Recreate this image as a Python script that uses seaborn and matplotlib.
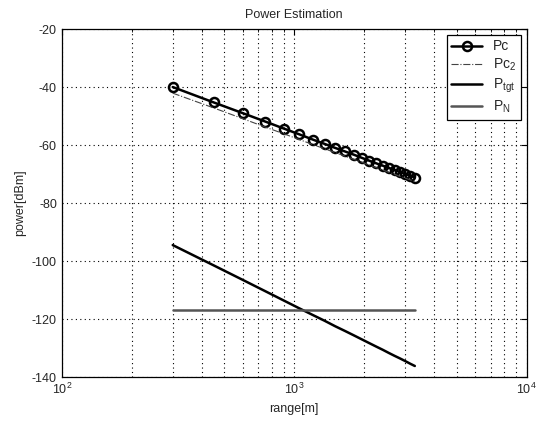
import numpy as np
import pandas as pd
import matplotlib
matplotlib.use('Agg')
import matplotlib.pyplot as plt
import seaborn as sns

# ---- data ----
RANGE_M = [300, 450, 600, 750, 900, 1050, 1200, 1350, 1500, 1650, 1800,
           1950, 2100, 2250, 2400, 2550, 2700, 2850, 3000, 3150, 3300]
PC = [-40.0, -45.3, -49.0, -51.9, -54.3, -56.3, -58.1, -59.6, -61.0, -62.2, -63.3,
      -64.4, -65.4, -66.3, -67.1, -67.9, -68.6, -69.3, -70.0, -70.6, -71.2]
PC2 = [-42.1, -47.2, -50.9, -53.8, -56.1, -58.1, -59.8, -61.3, -62.6, -63.8, -64.9,
       -65.9, -66.9, -67.8, -68.6, -69.4, -70.1, -70.8, -71.4, -72.0, -72.6]
P_TGT = [-94.5, -101.5, -106.5, -110.4, -113.6, -116.3, -118.6, -120.6, -122.5, -124.1, -125.6,
         -127.0, -128.3, -129.5, -130.6, -131.7, -132.7, -133.6, -134.5, -135.4, -136.2]
P_N = [-116.8] * len(RANGE_M)

Y_TICKS = [-140, -120, -100, -80, -60, -40, -20]

df = pd.DataFrame({'range': RANGE_M, 'Pc': PC, 'Pc2': PC2, 'Ptgt': P_TGT, 'PN': P_N})

sns.set_style('white')
plt.rcParams['font.family'] = ['Liberation Sans', 'DejaVu Sans']
plt.rcParams['mathtext.fontset'] = 'custom'
plt.rcParams['mathtext.rm'] = 'Liberation Sans'
plt.rcParams['mathtext.it'] = 'Liberation Sans'
plt.rcParams['axes.unicode_minus'] = False
plt.rcParams['xtick.direction'] = 'in'
plt.rcParams['ytick.direction'] = 'in'

fig = plt.figure(figsize=(5.47, 4.21), dpi=100)
ax = fig.add_axes([0.113, 0.1045, 0.85, 0.8265])

sns.lineplot(data=df, x='range', y='Pc', ax=ax, color='black', lw=1.8,
             marker='o', markersize=6.5, markerfacecolor='none', markeredgecolor='black',
             markeredgewidth=1.8, label='Pc')
sns.lineplot(data=df, x='range', y='Pc2', ax=ax, color='#444444', lw=0.8,
             linestyle='-.', label='Pc$_2$')
sns.lineplot(data=df, x='range', y='Ptgt', ax=ax, color='black', lw=1.8, label='P$_{tgt}$')
sns.lineplot(data=df, x='range', y='PN', ax=ax, color='#555555', lw=1.8, label='P$_N$')

ax.set_xscale('log')
ax.set_xlim(100, 10000)
ax.set_ylim(-140, -20)
ax.set_yticks(Y_TICKS)
grid_style = dict(color='black', linestyle=(0, (1, 3)), linewidth=0.8)
ax.grid(True, which='major', axis='both', **grid_style)
ax.grid(True, which='minor', axis='x', **grid_style)
ax.tick_params(which='both', top=True, right=True, labelsize=9, color='black', length=4)
ax.tick_params(which='minor', length=2.5)
for s in ax.spines.values():
    s.set_color('black')
    s.set_linewidth(0.9)

ax.set_title('Power Estimation', fontsize=9, pad=8)
ax.set_xlabel('range[m]', fontsize=9)
ax.set_ylabel('power[dBm]', fontsize=9)

leg = ax.legend(loc='upper right', fontsize=10, frameon=True, fancybox=False,
                edgecolor='black', framealpha=1, handlelength=2.2,
                borderaxespad=0.4, labelspacing=0.25, borderpad=0.35)
leg.get_frame().set_linewidth(0.9)

fig.savefig('out.png', dpi=100)
